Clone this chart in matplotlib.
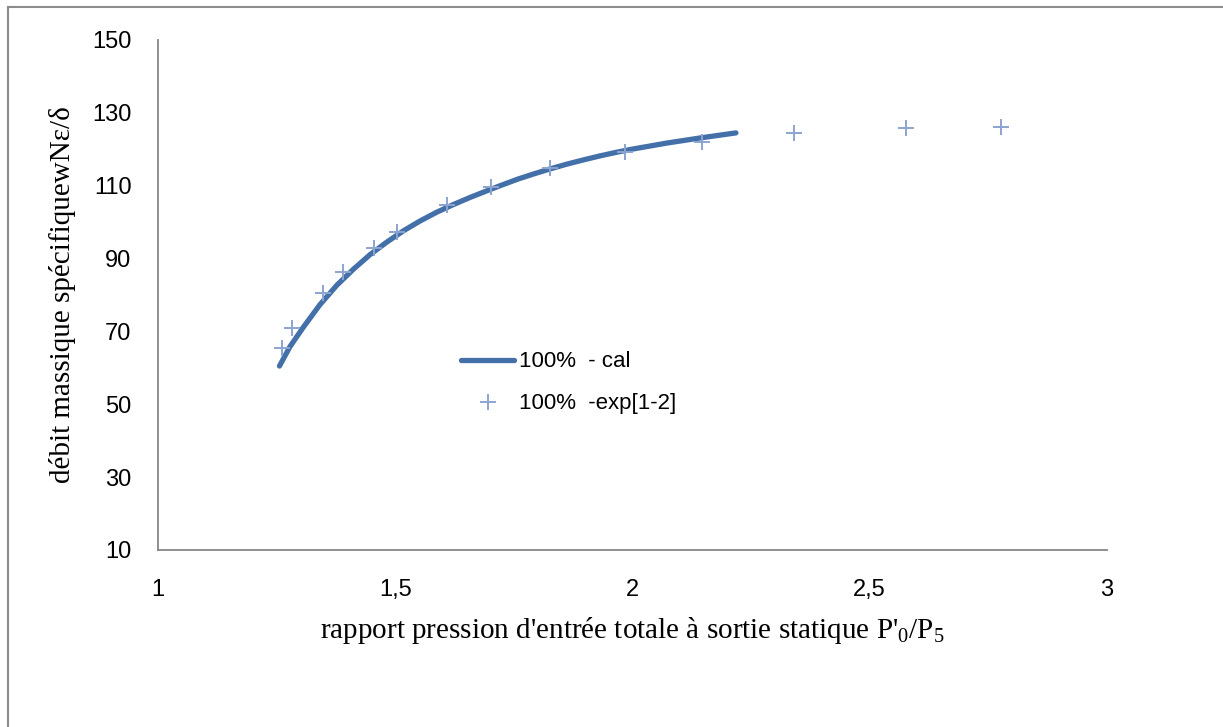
import numpy as np
import matplotlib
matplotlib.use('Agg')
import matplotlib.pyplot as plt
from matplotlib.lines import Line2D

# values
x_cal = [1.256, 1.278, 1.306, 1.341, 1.377, 1.412, 1.447, 1.482, 1.517, 1.552, 1.587, 1.622,
         1.658, 1.693, 1.725, 1.758, 1.791, 1.826, 1.861, 1.897, 1.932, 1.967, 2.002, 2.037,
         2.072, 2.107, 2.142, 2.180, 2.218]
y_cal = [60.5, 65.8, 71.1, 77.3, 82.7, 87.1, 91.1, 94.5, 97.6, 100.3, 102.7, 104.8,
         106.8, 108.6, 110.2, 111.8, 113.2, 114.6, 115.9, 117.1, 118.2, 119.2, 120.1, 120.9,
         121.7, 122.4, 123.1, 123.8, 124.5]

x_exp = [1.261, 1.283, 1.348, 1.389, 1.455, 1.504, 1.610, 1.702, 1.826, 1.984, 2.147, 2.340, 2.576, 2.777]
y_exp = [65.5, 70.9, 80.6, 86.2, 92.8, 97.4, 104.7, 109.6, 114.8, 119.2, 122.1, 124.6, 125.8, 126.2]

xticks = [1, 1.5, 2, 2.5, 3]
xticklabels = ['1', '1,5', '2', '2,5', '3']
yticks = [10, 30, 50, 70, 90, 110, 130, 150]

plt.rcParams['font.family'] = ['Liberation Sans', 'DejaVu Sans']
plt.rcParams['mathtext.fontset'] = 'custom'
plt.rcParams['mathtext.rm'] = 'Liberation Serif'
plt.rcParams['mathtext.it'] = 'Liberation Serif:italic'

W, H = 1223, 727
fig = plt.figure(figsize=(W / 100, H / 100), dpi=100)
ax = fig.add_axes([158 / W, 1 - 550 / H, (1107 - 158) / W, 510 / H])

line_col = '#4470AA'
mark_col = '#8BA4D0'

ax.plot(x_cal, y_cal, color=line_col, lw=3.8, solid_capstyle='round',
        solid_joinstyle='round', zorder=3)
ax.plot(x_exp, y_exp, ls='none', marker='+', ms=12, mew=1.4, color=mark_col, zorder=4)

ax.set_xlim(1, 3)
ax.set_ylim(10, 150)
ax.set_xticks(xticks)
ax.set_xticklabels(xticklabels)
ax.set_yticks(yticks)
ax.tick_params(axis='both', length=0, labelsize=17)
ax.tick_params(axis='y', pad=19)
ax.tick_params(axis='x', pad=21)

for s in ['top', 'right']:
    ax.spines[s].set_visible(False)
for s in ['left', 'bottom']:
    ax.spines[s].set_color('#868686')
    ax.spines[s].set_linewidth(1.3)

ax.set_xlabel("rapport pression d'entrée totale à sortie statique P'$_0$/P$_5$",
              family='Liberation Serif', fontsize=21, labelpad=10)
ax.set_ylabel("débit massique spécifiquewNε/δ", family='Liberation Serif', fontsize=21, labelpad=12)

handles = [Line2D([], [], color=line_col, lw=3.8, solid_capstyle='round'),
           Line2D([], [], ls='none', marker='+', ms=12, mew=1.4, color=mark_col)]
ax.legend(handles, ['100%  - cal', '100%  -exp[1-2]'], frameon=False, fontsize=16,
          loc='upper left', bbox_to_anchor=(0.31, 0.407), handlelength=2.4,
          handletextpad=0.2, labelspacing=0.95, borderaxespad=0)

# outer chart frame
fig.add_artist(Line2D([8 / W, 1], [1 - 7 / H, 1 - 7 / H], color='#8c8c8c', lw=1.5))
fig.add_artist(Line2D([8 / W, 8 / W], [0, 1 - 7 / H], color='#8c8c8c', lw=1.5))

fig.savefig('out.png', dpi=100)
